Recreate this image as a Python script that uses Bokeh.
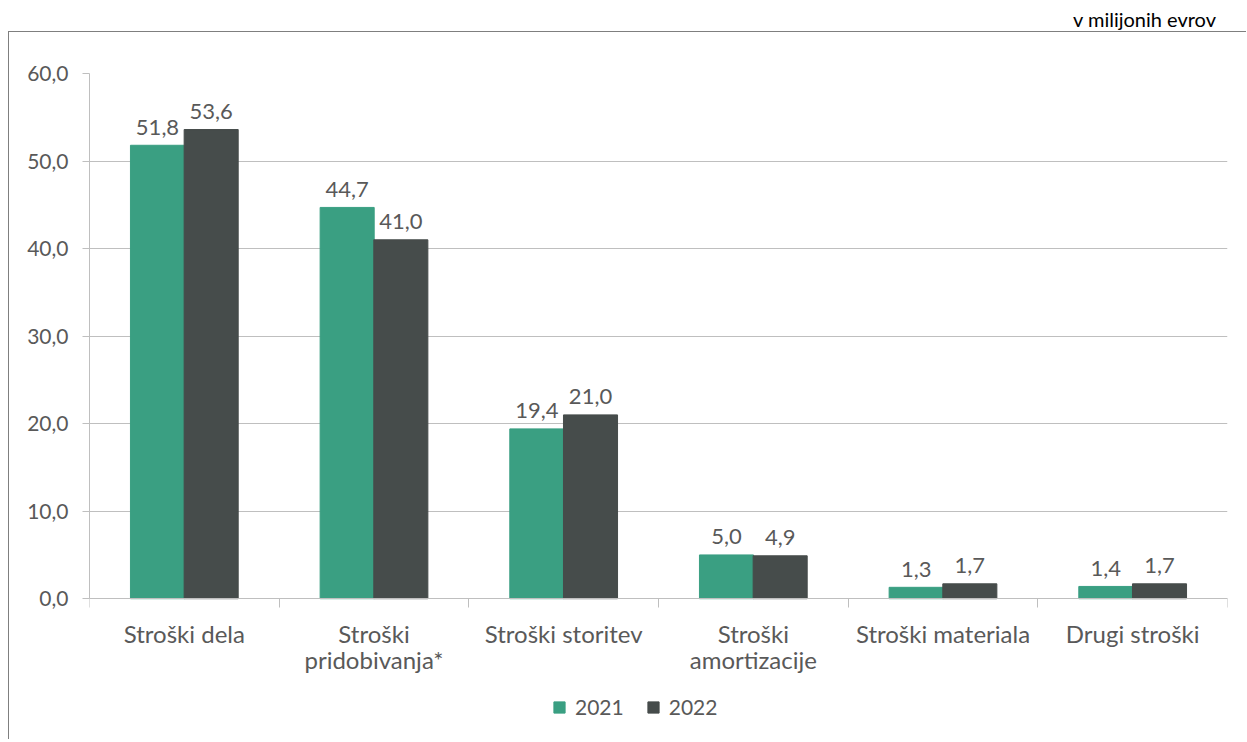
from bokeh.plotting import figure
from bokeh.models import (ColumnDataSource, Range1d, FixedTicker, CustomJSTickFormatter,
                          Legend, LegendItem, Div)
from bokeh.layouts import column
from bokeh.transform import dodge
from bokeh.core.properties import value
from bokeh.embed import file_html
from bokeh.resources import INLINE

# ---- data ----
categories = ["Stroški dela", "Stroški\npridobivanja*", "Stroški storitev",
              "Stroški\namortizacije", "Stroški materiala", "Drugi stroški"]
values_2021 = [51.8, 44.7, 19.4, 5.0, 1.3, 1.4]
values_2022 = [53.6, 41.0, 21.0, 4.9, 1.7, 1.7]
series_names = ["2021", "2022"]
y_ticks = [0, 10, 20, 30, 40, 50, 60]
unit_note = "v milijonih evrov"

FONT = "Lato"
TEXT_COLOR = "#595959"
GREEN = "#3A9F82"
DARK = "#464C4B"
GRID = "#BFBFBF"

# layout: the frame continues below zero to hold category labels and legend
Y_LAYOUT_BOTTOM = -16.2


def fmt(v):
    return f"{v:.1f}".replace(".", ",")


n = len(categories)
centers = [i + 0.5 for i in range(n)]
bounds = list(range(n + 1))

src = ColumnDataSource(dict(
    xc=centers,
    v21=values_2021,
    v22=values_2022,
    l21=[fmt(v) for v in values_2021],
    l22=[fmt(v) for v in values_2022],
))

p = figure(x_range=Range1d(0, n), y_range=Range1d(Y_LAYOUT_BOTTOM, y_ticks[-1]),
           width=1238, height=708, output_backend="svg", toolbar_location=None,
           min_border_left=80, min_border_right=20,
           min_border_top=41, min_border_bottom=0)
p.margin = (0, 0, 0, 8)
p.styles = {"border-left": "1px solid #7F7F7F", "border-top": "1px solid #7F7F7F"}
p.outline_line_color = None
p.background_fill_color = "white"
p.border_fill_color = "white"
p.xgrid.grid_line_color = None
p.ygrid.ticker = FixedTicker(ticks=y_ticks)
p.ygrid.grid_line_color = GRID
p.ygrid.grid_line_width = 1

# y axis
yax = p.yaxis[0]
yax.ticker = FixedTicker(ticks=y_ticks)
yax.bounds = (y_ticks[0], y_ticks[-1])
yax.formatter = CustomJSTickFormatter(code="return tick.toFixed(1).replace('.', ',');")
yax.axis_line_color = GRID
yax.major_tick_line_color = GRID
yax.major_tick_out = 7
yax.major_tick_in = 0
yax.minor_tick_line_color = None
yax.major_label_standoff = 14
yax.major_label_text_font = FONT
yax.major_label_text_font_size = "21px"
yax.major_label_text_color = TEXT_COLOR

# x axis at zero: labels at category centres, ticks at category boundaries
xax = p.xaxis[0]
xax.fixed_location = 0
xax.ticker = FixedTicker(ticks=centers, minor_ticks=bounds)
xax.major_label_overrides = {c: name for c, name in zip(centers, categories)}
xax.axis_line_color = GRID
xax.major_tick_line_color = None
xax.major_tick_out = 0
xax.major_tick_in = 0
xax.minor_tick_line_color = GRID
xax.minor_tick_out = 9
xax.minor_tick_in = 0
xax.major_label_standoff = 11
xax.major_label_text_font = FONT
xax.major_label_text_font_size = "24px"
xax.major_label_text_line_height = 0.9
xax.major_label_text_color = TEXT_COLOR

# bars
off = 0.1415
bw = 0.285
r21 = p.vbar(x=dodge("xc", -off), top="v21", width=bw, source=src,
             fill_color=GREEN, line_color=GREEN)
r22 = p.vbar(x=dodge("xc", off), top="v22", width=bw, source=src,
             fill_color=DARK, line_color=DARK)

# value labels
for col, lab, o in (("v21", "l21", -off), ("v22", "l22", off)):
    p.text(x=dodge("xc", o), y=col, text=lab, source=src,
           text_align="center", text_baseline="alphabetic", y_offset=-18,
           text_font=value(FONT), text_font_size="22px", text_color=TEXT_COLOR)

# legend (inside the frame, below the category labels)
legend = Legend(items=[LegendItem(label=series_names[0], renderers=[r21]),
                       LegendItem(label=series_names[1], renderers=[r22])],
                orientation="horizontal", location=(463, 21))
legend.glyph_width = 14
legend.glyph_height = 14
legend.label_standoff = 9
legend.spacing = 22
legend.padding = 0
legend.margin = 0
legend.border_line_color = None
legend.background_fill_alpha = 0
legend.label_text_font = FONT
legend.label_text_font_size = "21px"
legend.label_text_color = TEXT_COLOR
p.add_layout(legend, "center")

note = Div(text=unit_note, width=1216, height=31, margin=(0, 0, 0, 0),
           styles={"text-align": "right", "font-family": "Lato", "font-size": "20px",
                   "color": "#000000", "line-height": "31px", "transform": "translateY(4px)"})

layout = column(note, p, spacing=0)
open("out.html", "w").write(file_html(layout, INLINE))
